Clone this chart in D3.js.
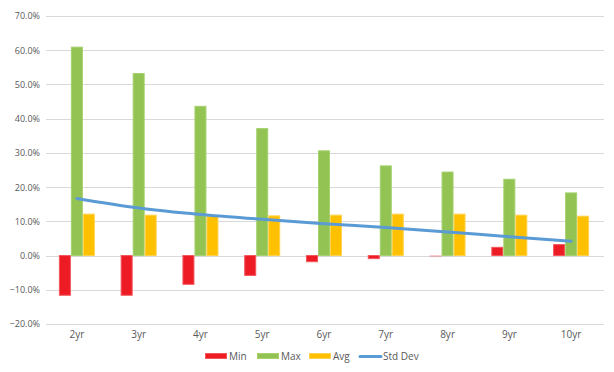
<!DOCTYPE html>
<html>
<head>
<meta charset="utf-8">
<script src="https://cdn.jsdelivr.net/npm/d3@7"></script>
<style>
  body { margin: 0; background: #fff; }
  text { font-family: "Open Sans", "DejaVu Sans", sans-serif; fill: #595959; }
</style>
</head>
<body>
<div id="vis"></div>
<script>
// values (fractions)
var periods = ["2yr", "3yr", "4yr", "5yr", "6yr", "7yr", "8yr", "9yr", "10yr"];
var minVals = [-0.116, -0.116, -0.084, -0.058, -0.018, -0.009, -0.003, 0.024, 0.032];
var maxVals = [0.609, 0.532, 0.436, 0.371, 0.306, 0.262, 0.244, 0.223, 0.183];
var avgVals = [0.121, 0.118, 0.114, 0.116, 0.118, 0.121, 0.121, 0.118, 0.115];
var stdVals = [0.167, 0.139, 0.120, 0.106, 0.093, 0.082, 0.069, 0.055, 0.042];
var yTicks = [-0.2, -0.1, 0, 0.1, 0.2, 0.3, 0.4, 0.5, 0.6, 0.7];

var barSeries = [
  { name: "Min", values: minVals, fill: "#ED1C24", stroke: "#F4555B" },
  { name: "Max", values: maxVals, fill: "#92C353", stroke: "#A6D16E" },
  { name: "Avg", values: avgVals, fill: "#FFC000", stroke: "#FFD24D" }
];

var width = 614, height = 372;

var svg = d3.select("#vis")
  .append("svg")
    .attr("width", width)
    .attr("height", height);

var x = d3.scaleBand()
    .domain(periods)
    .range([46, 602]);

var yScale = d3.scaleLinear()
    .domain([-0.2, 0.7])
    .range([324, 16]);

var groupW = 36;
var xs = d3.scaleBand()
    .domain(barSeries.map(function(s){ return s.name }))
    .range([0, groupW]);

// gridlines
svg.append("g")
  .selectAll("line")
  .data(yTicks)
  .enter()
  .append("line")
    .attr("x1", 46)
    .attr("x2", 604)
    .attr("y1", function(d){ return Math.round(yScale(d)) + 0.5 })
    .attr("y2", function(d){ return Math.round(yScale(d)) + 0.5 })
    .attr("stroke", "#d9d9d9")
    .attr("stroke-width", 1);

// y axis labels
var yAxis = d3.axisLeft(yScale)
    .tickValues(yTicks)
    .tickFormat(d3.format(".1%"))
    .tickSize(0)
    .tickPadding(6);

svg.append("g")
  .attr("transform", "translate(46,0)")
  .call(yAxis)
  .call(function(g){ g.select(".domain").remove() })
  .selectAll("text")
    .style("font-size", "9px")
    .attr("fill", "#595959");

// x axis labels
var xAxis = d3.axisBottom(x).tickSize(0).tickPadding(7);
svg.append("g")
  .attr("transform", "translate(0,324)")
  .call(xAxis)
  .call(function(g){ g.select(".domain").remove() })
  .selectAll("text")
    .style("font-size", "10px")
    .attr("fill", "#595959");

// bars
barSeries.forEach(function(s){
  svg.append("g")
    .selectAll("rect")
    .data(s.values)
    .enter()
    .append("rect")
      .attr("x", function(d, i){ return x(periods[i]) + (x.bandwidth() - groupW) / 2 + xs(s.name) + 0.5 })
      .attr("width", xs.bandwidth() - 1)
      .attr("y", function(d){ return Math.min(yScale(d), yScale(0)) })
      .attr("height", function(d){ return Math.abs(yScale(d) - yScale(0)) })
      .attr("fill", s.fill)
      .attr("stroke", s.stroke)
      .attr("stroke-width", 1)
      .attr("opacity", function(d){ return Math.abs(d) < 0.005 ? 0.3 : 1 });
});

// std dev line
var line = d3.line()
    .x(function(d, i){ return x(periods[i]) + x.bandwidth() / 2 })
    .y(function(d){ return yScale(d) })
    .curve(d3.curveMonotoneX);

svg.append("path")
  .datum(stdVals)
  .attr("d", line)
  .attr("fill", "none")
  .attr("stroke", "#5B9BD5")
  .attr("stroke-width", 3)
  .attr("stroke-linecap", "round");

// legend
var legendItems = [
  { name: "Min", type: "rect", fill: "#ED1C24", stroke: "#F4555B", x: 205 },
  { name: "Max", type: "rect", fill: "#92C353", stroke: "#A6D16E", x: 257 },
  { name: "Avg", type: "rect", fill: "#FFC000", stroke: "#FFD24D", x: 309 },
  { name: "Std Dev", type: "line", fill: "#5B9BD5", x: 359 }
];

var legend = svg.append("g");
legendItems.forEach(function(it){
  if (it.type === "rect") {
    legend.append("rect")
      .attr("x", it.x + 0.5).attr("y", 353.5)
      .attr("width", 21).attr("height", 5)
      .attr("fill", it.fill).attr("stroke", it.stroke);
  } else {
    legend.append("line")
      .attr("x1", it.x + 1).attr("x2", it.x + 22)
      .attr("y1", 356.5).attr("y2", 356.5)
      .attr("stroke", it.fill).attr("stroke-width", 3)
      .attr("stroke-linecap", "round");
  }
  legend.append("text")
    .attr("x", it.x + 24)
    .attr("y", 360)
    .style("font-size", "10px")
    .text(it.name);
});
</script>
</body>
</html>
